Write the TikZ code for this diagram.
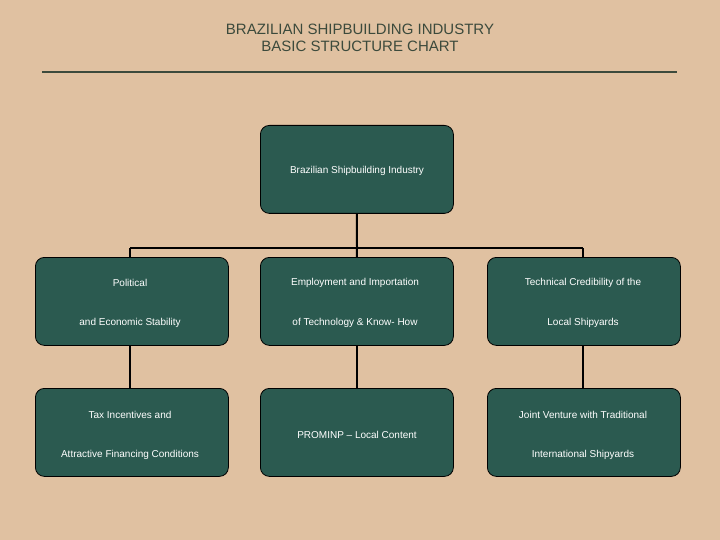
\documentclass[tikz,border=0pt]{standalone}
\usepackage{fontspec}
\setmainfont{Liberation Sans}
\definecolor{bg}{HTML}{E0C1A1}
\definecolor{boxc}{HTML}{2B5A50}
\definecolor{titc}{HTML}{3C4A3C}
\begin{document}
\begin{tikzpicture}[x=1pt,y=-1pt,
  bx/.style={draw=black,line width=0.8pt,fill=boxc,rounded corners=9pt,minimum width=193pt,minimum height=88pt,anchor=north west},
  tx/.style={text=white,font=\fontsize{10}{12}\selectfont},
  cn/.style={line width=2pt,black}]
\fill[bg] (0,0) rectangle (720,540);
\useasboundingbox (0,0) rectangle (720,540);
\node[text=titc,font=\fontsize{15}{17}\selectfont,align=center] (title) at (360,38) {BRAZILIAN SHIPBUILDING INDUSTRY\\BASIC STRUCTURE CHART};
\coordinate (l1) at (42,72); \coordinate (l2) at (677,72);
\draw[titc,line width=1.2pt] (l1) -- (l2);
\node[bx] (top) at (260,125) {};
\node[bx] (a) at (35,257) {};
\node[bx] (b) at (260,257) {};
\node[bx] (c) at (487,257) {};
\node[bx] (d) at (35,388) {};
\node[bx] (e) at (260,388) {};
\node[bx] (f) at (487,388) {};
\coordinate (j) at (357,248);
\coordinate (ja) at (130,248);
\coordinate (jc) at (583,248);
\draw[cn] (top.south) -- (j);
\draw[cn] (ja) -- (jc);
\draw[cn] (ja) -- (ja|-a.north);
\draw[cn] (j) -- (b.north);
\draw[cn] (jc) -- (jc|-c.north);
\draw[cn] (ja|-a.south) -- (ja|-d.north);
\draw[cn] (b.south) -- (e.north);
\draw[cn] (jc|-c.south) -- (jc|-f.north);
\node[tx] (ttop) at (357,171) {Brazilian Shipbuilding Industry};
\node[tx] (a1) at (130,283) {Political};
\node[tx] (a2) at (130,323) {and Economic Stability};
\node[tx] (b1) at (355,283) {Employment and Importation};
\node[tx] (b2) at (355,323) {of Technology \& Know- How};
\node[tx] (c1) at (583,283) {Technical Credibility of the};
\node[tx] (c2) at (583,323) {Local Shipyards};
\node[tx] (d1) at (130,415) {Tax Incentives and};
\node[tx] (d2) at (130,455) {Attractive Financing Conditions};
\node[tx] (e1) at (357,435) {PROMINP – Local Content};
\node[tx] (f1) at (583,415) {Joint Venture with Traditional};
\node[tx] (f2) at (583,455) {International Shipyards};
\end{tikzpicture}
\end{document}
